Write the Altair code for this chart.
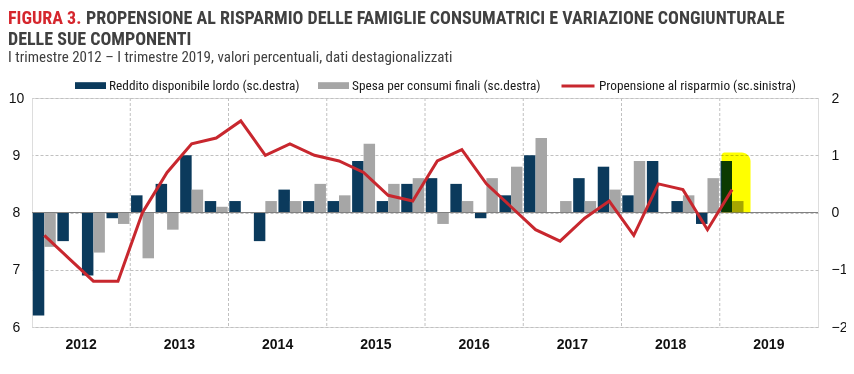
import altair as alt
import pandas as pd

# ---------------- data ----------------
anni = ["2012", "2013", "2014", "2015", "2016", "2017", "2018", "2019"]
trimestri_nomi = ["T1", "T2", "T3", "T4"]

reddito = [-1.8, -0.5, -1.1, -0.1,
           0.3, 0.5, 1.0, 0.2,
           0.2, -0.5, 0.4, 0.2,
           0.2, 0.9, 0.2, 0.5,
           0.6, 0.5, -0.1, 0.3,
           1.0, 0.0, 0.6, 0.8,
           0.3, 0.9, 0.2, -0.2,
           0.9]
spesa = [-0.6, 0.0, -0.7, -0.2,
         -0.8, -0.3, 0.4, 0.1,
         0.0, 0.2, 0.2, 0.5,
         0.3, 1.2, 0.5, 0.6,
         -0.2, 0.2, 0.6, 0.8,
         1.3, 0.2, 0.2, 0.4,
         0.9, 0.0, 0.3, 0.6,
         0.2]
propensione = [7.6, 7.2, 6.8, 6.8,
               8.0, 8.7, 9.2, 9.3,
               9.6, 9.0, 9.2, 9.0,
               8.9, 8.7, 8.3, 8.2,
               8.9, 9.1, 8.5, 8.1,
               7.7, 7.5, 7.9, 8.2,
               7.6, 8.5, 8.4, 7.7,
               8.4]
evidenziato_trim = ["2019-T1"]
evidenziato_val = [1.05]

S_RED = "Reddito disponibile lordo (sc.destra)"
S_SPE = "Spesa per consumi finali (sc.destra)"
S_PRO = "Propensione al risparmio (sc.sinistra)"

titolo_a = "FIGURA 3."
titolo_b = "PROPENSIONE AL RISPARMIO DELLE FAMIGLIE CONSUMATRICI E VARIAZIONE CONGIUNTURALE"
titolo_c = "DELLE SUE COMPONENTI"
sottotitolo = "I trimestre 2012 \u2013 I trimestre 2019, valori percentuali, dati destagionalizzati"

# ---------------- tables ----------------
slots = [f"{a}-{t}" for a in anni for t in trimestri_nomi]
periodi = slots[:len(reddito)]

df_bars = pd.DataFrame({
    "trimestre": periodi * 2,
    "serie": [S_RED] * len(reddito) + [S_SPE] * len(spesa),
    "valore": reddito + spesa,
})
df_line = pd.DataFrame({"trimestre": periodi, "serie": S_PRO, "valore": propensione})
df_years = pd.DataFrame({"anno": anni, "inizio": [f"{a}-T1" for a in anni],
                         "meta": [f"{a}-T3" for a in anni]})
df_hl = pd.DataFrame({"trimestre": evidenziato_trim, "valore": evidenziato_val})

W, H = 786, 229
NARROW = "Roboto Condensed, Liberation Sans Narrow, Arial Narrow, DejaVu Sans Condensed, Liberation Sans"
SANS = "Liberation Sans, Arial"
DARK = "#0b3a5c"
GRAY = "#a6a6a6"
RED = "#c8272e"
GRID = "#c0c0c0"

xscale = alt.Scale(domain=slots, paddingInner=0, paddingOuter=0)

bars = alt.Chart(df_bars).mark_bar().encode(
    x=alt.X("trimestre:N", scale=xscale, axis=None),
    xOffset=alt.XOffset("serie:N", scale=alt.Scale(domain=[S_RED, S_SPE], paddingInner=0, paddingOuter=0.07)),
    y=alt.Y("valore:Q", scale=alt.Scale(domain=[-2, 2], nice=False),
            axis=alt.Axis(orient="right", values=[-2, -1, 0, 1, 2], format="d", grid=True, gridDash=[3, 2],
                          gridColor=GRID, domain=False, ticks=False, labelPadding=13,
                          labelAlign="left", title=None, labelFontSize=14, labelFont=SANS,
                          labelColor="#111111")),
    color=alt.Color("serie:N", scale=alt.Scale(domain=[S_RED, S_SPE], range=[DARK, GRAY]),
                    legend=alt.Legend(orient="none", legendX=43, legendY=-28, direction="horizontal",
                                      title=None, symbolType="M-1,-0.22H1V0.22H-1Z", symbolSize=961,
                                      symbolStrokeWidth=0, labelFont=NARROW, labelFontSize=13.3,
                                      labelColor="#1a1a1a", columnPadding=18, labelOffset=3, padding=0,
                                      labelLimit=0)),
)

vrules = alt.Chart(df_years[df_years["anno"] != anni[0]]).mark_rule(
    color=GRID, strokeDash=[3, 2], strokeWidth=1
).encode(
    x=alt.X("inizio:N", scale=xscale, axis=None, bandPosition=0),
    y=alt.value(0), y2=alt.value(H),
)

year_text = alt.Chart(df_years).mark_text(
    font=SANS, fontSize=14, fontWeight="bold", color="#111111", baseline="middle"
).encode(
    x=alt.X("meta:N", scale=xscale, axis=None, bandPosition=0),
    y=alt.value(H + 18),
    text="anno:N",
)

zero = alt.Chart(df_hl).mark_rule(color="#808080", strokeWidth=1).encode(y=alt.datum(0))

highlight = alt.Chart(df_hl).mark_bar(
    color="#ffff00", blend="multiply", width=29, xOffset=4,
    cornerRadiusTopRight=9, cornerRadiusTopLeft=3
).encode(
    x=alt.X("trimestre:N", scale=xscale, axis=None),
    y=alt.Y("valore:Q"),
    y2=alt.datum(0),
)

def header(text, x, y, size, weight, color, font):
    return alt.Chart(pd.DataFrame({"t": [text]})).mark_text(
        align="left", baseline="alphabetic", font=font, fontSize=size,
        fontWeight=weight, color=color
    ).encode(text="t:N", x=alt.value(x), y=alt.value(y))

h1 = header(titolo_a, -24, -74, 18, "bold", "#d5262d", NARROW)
h2 = header(titolo_b, 54, -74, 18, "bold", "#404040", NARROW)
h3 = header(titolo_c, -24, -53, 18, "bold", "#404040", NARROW)
h4 = header(sottotitolo, -24, -36.5, 15, "normal", "#404040", NARROW)

left_group = alt.layer(vrules, bars, zero, highlight, year_text, h1, h2, h3, h4)

line = alt.Chart(df_line).mark_line(strokeWidth=3).encode(
    x=alt.X("trimestre:N", scale=xscale, axis=None),
    y=alt.Y("valore:Q", scale=alt.Scale(domain=[6, 10], nice=False, zero=False),
            axis=alt.Axis(orient="left", values=[6, 7, 8, 9, 10], grid=False, domain=False,
                          ticks=False, labelAlign="center", labelPadding=16, title=None,
                          labelFontSize=14, labelFont=SANS, labelColor="#111111")),
    color=alt.Color("serie:N", scale=alt.Scale(domain=[S_PRO], range=[RED]),
                    legend=alt.Legend(orient="none", legendX=528, legendY=-30, direction="horizontal",
                                      title=None, symbolType="stroke", symbolSize=1089,
                                      symbolStrokeWidth=3, labelFont=NARROW, labelFontSize=13.3,
                                      labelColor="#1a1a1a", labelOffset=3, padding=0, labelLimit=0)),
)

chart = alt.layer(left_group, line).resolve_scale(
    y="independent", color="independent"
).properties(
    width=W, height=H,
    autosize=alt.AutoSizeParams(type="none"),
    padding={"left": 24, "top": 90, "right": 28, "bottom": 36},
).configure_view(stroke="#c0c0c0", strokeWidth=1).configure(background="white")

chart.save("out.html", embed_options={"renderer": "svg", "actions": False})
